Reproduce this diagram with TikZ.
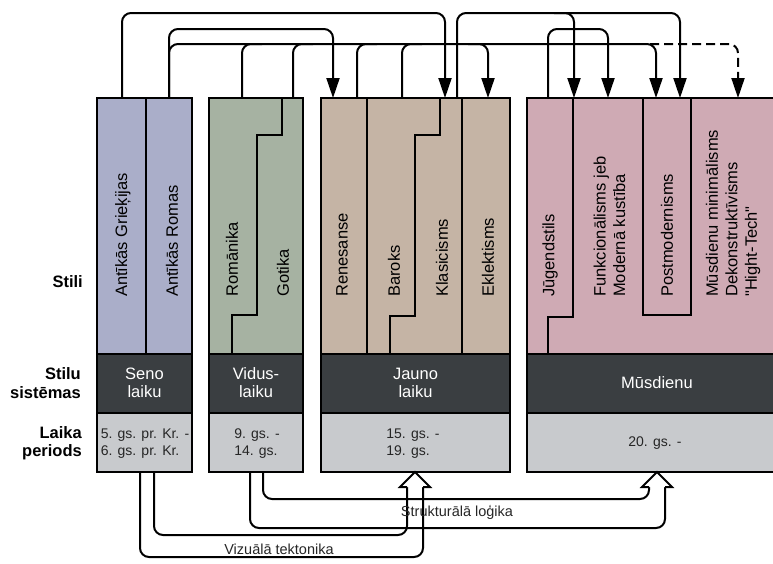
\documentclass[tikz,border=0pt]{standalone}
\usepackage{fontspec}
\setmainfont{Liberation Sans}
\usetikzlibrary{arrows.meta,calc}

\definecolor{antique}{RGB}{170,174,201}
\definecolor{medieval}{RGB}{166,178,162}
\definecolor{newage}{RGB}{197,180,165}
\definecolor{modern}{RGB}{207,170,180}
\definecolor{band}{RGB}{58,62,65}
\definecolor{period}{RGB}{200,202,205}

\begin{document}
\begin{tikzpicture}[x=1pt,y=-1pt,
  box/.style={draw=black,line width=1.7pt},
  divline/.style={line width=1.7pt},
  stiltext/.style={rotate=90,anchor=west,inner sep=0pt,align=left,
    font=\fontsize{16.5}{19.5}\selectfont},
  systext/.style={text=white,align=center,inner sep=0pt,
    font=\fontsize{16.5}{18}\selectfont},
  pertext/.style={align=left,inner sep=0pt,text=black!85,
    font=\fontsize{14}{17}\selectfont},
  rowlabel/.style={anchor=east,align=right,inner sep=0pt,
    font=\bfseries\fontsize{16.5}{18.5}\selectfont},
  flowlabel/.style={inner sep=0pt,text=black!85,font=\fontsize{14.5}{17}\selectfont},
  link/.style={line width=2pt,rounded corners=9pt,-{Triangle[length=20pt,width=13pt]}},
  feed/.style={line width=2pt,rounded corners=9pt},
  flow/.style={line width=2pt,rounded corners=9pt},
  hollow/.style={line width=2pt,fill=white,line join=miter}]
\useasboundingbox (0,0) rectangle (773,563);
\clip (0,0) rectangle (773,563);

% groups
\foreach \l/\r/\c in {97/192/antique,209/303/medieval,321/510/newage,527/787/modern}{
  \filldraw[box,fill=\c] (\l,98) rectangle (\r,354);
  \filldraw[box,fill=band] (\l,354) rectangle (\r,413);
  \filldraw[box,fill=period] (\l,413) rectangle (\r,472);
}
\draw[divline] (146,98) -- (146,354);
\draw[divline] (282,98) |- (257,135) |- (232,315) -- (232,354);
\draw[divline] (367,98) -- (367,354);
\draw[divline] (440,98) |- (415,135) |- (390,316) -- (390,354);
\draw[divline] (462,98) -- (462,354);
\draw[divline] (573,98) |- (548,317) -- (548,354);
\draw[divline] (643,98) |- (691,315) -- (691,98);

% row labels
\node[rowlabel] (stili) at (83,282) {Stili};
\node[rowlabel] (sistemas) at (81,383) {Stilu\\sistēmas};
\node[rowlabel] (periods) at (82,443) {Laika\\periods};

% styles
\node[stiltext] (griek) at (123,297) {Antīkās Grieķijas};
\node[stiltext] (romas) at (172,297) {Antīkās Romas};
\node[stiltext] (romanika) at (232,297) {Romānika};
\node[stiltext] (gotika) at (283,297) {Gotika};
\node[stiltext] (renesanse) at (342,297) {Renesanse};
\node[stiltext] (baroks) at (394,297) {Baroks};
\node[stiltext] (klasicisms) at (442,297) {Klasicisms};
\node[stiltext] (eklektisms) at (488,297) {Eklektisms};
\node[stiltext] (jugend) at (550,297) {Jūgendstils};
\node[stiltext] (funkc) at (609.5,297) {Funkcionālisms jeb\\Modernā kustība};
\node[stiltext] (postmod) at (667,297) {Postmodernisms};
\node[stiltext] (musdmin) at (733,297) {Mūsdienu minimālisms\\Dekonstruktīvisms\\\textquotedbl Hight-Tech\textquotedbl};

% systems and periods
\node[systext] (seno) at (144.5,383) {Seno\\laiku};
\node[systext] (vidus) at (256,383) {Vidus-\\laiku};
\node[systext] (jauno) at (415.5,383) {Jauno\\laiku};
\node[systext] (musd) at (657,383) {Mūsdienu};
\node[pertext] (per-seno) at (145,443.5) {5. gs. pr. Kr. -\\6. gs. pr. Kr.};
\node[pertext] (per-vidus) at (257,443.5) {9. gs. -\\14. gs.};
\node[pertext] (per-jauno) at (413,443.5) {15. gs. -\\19. gs.};
\node[pertext] (per-musd) at (655,443.5) {20. gs. -};

% top connections
\coordinate (lvlA) at (0,13);
\coordinate (lvlB) at (0,29);
\coordinate (lvlC) at (0,44);
\coordinate (griek-t) at (122,98);
\coordinate (romas-t) at (169,98);
\coordinate (roman-t) at (242,98);
\coordinate (gotik-t) at (293,98);
\coordinate (renes-t) at (357,98);
\coordinate (barok-t) at (402,98);
\coordinate (klas-t) at (457,98);
\coordinate (jugend-t) at (548,98);
\coordinate (renes-in) at (333,98);
\coordinate (klas-in) at (445,98);
\coordinate (eklek-in) at (488,98);
\coordinate (funk-in) at (574,98);
\coordinate (funk-in2) at (608,98);
\coordinate (post-in) at (656,98);
\coordinate (post-in2) at (680,98);
\coordinate (musd-in) at (738,98);

\draw[link] (griek-t) -- (griek-t |- lvlA) -| (klas-in);
\draw[link] (romas-t) -- (romas-t |- lvlB) -| (renes-in);
\draw[link] (romas-t) -- (romas-t |- lvlC) -| (post-in);
\foreach \s in {roman-t,gotik-t,renes-t,barok-t}
  \draw[feed] (\s) |- +(20,-54);
\draw[link] ($(eklek-in |- lvlC)+(-20,0)$) -| (eklek-in);
\draw[link,dash pattern=on 9pt off 5pt] ($(post-in |- lvlC)+(-6,0)$) -| (musd-in);
\draw[link] (klas-t) -- (klas-t |- lvlA) -| (post-in2);
\draw[link] ($(funk-in |- lvlA)+(-20,0)$) -| (funk-in);
\draw[link] (jugend-t) -- (jugend-t |- lvlB) -| (funk-in2);

% bottom connections
\coordinate (romas-b1) at (140,472);
\coordinate (romas-b2) at (154,472);
\coordinate (vidus-b1) at (250,472);
\coordinate (vidus-b2) at (263,472);
\coordinate (jauno-b) at (415,472);
\coordinate (musd-b) at (657,472);

\draw[flow] (vidus-b2) |- ($(musd-b)+(-8,27)$) -- ($(musd-b)+(-8,15)$);
\draw[flow] (vidus-b1) |- ($(musd-b)+(8,56)$) -- ($(musd-b)+(8,15)$);
\draw[flow] (romas-b2) |- ($(jauno-b)+(-8,63)$) -- ($(jauno-b)+(-8,15)$);
\draw[flow] (romas-b1) |- ($(jauno-b)+(8,85)$) -- ($(jauno-b)+(8,15)$);
\foreach \t in {jauno-b,musd-b}
  \draw[hollow] ($(\t)+(-8,15)$) -- ++(-7,0) -- (\t) -- ++(15,15) -- ++(-7,0);

\node[flowlabel] (struk) at (457,512) {Strukturālā loģika};
\node[flowlabel] (vizual) at (279,549) {Vizuālā tektonika};
\end{tikzpicture}
\end{document}
